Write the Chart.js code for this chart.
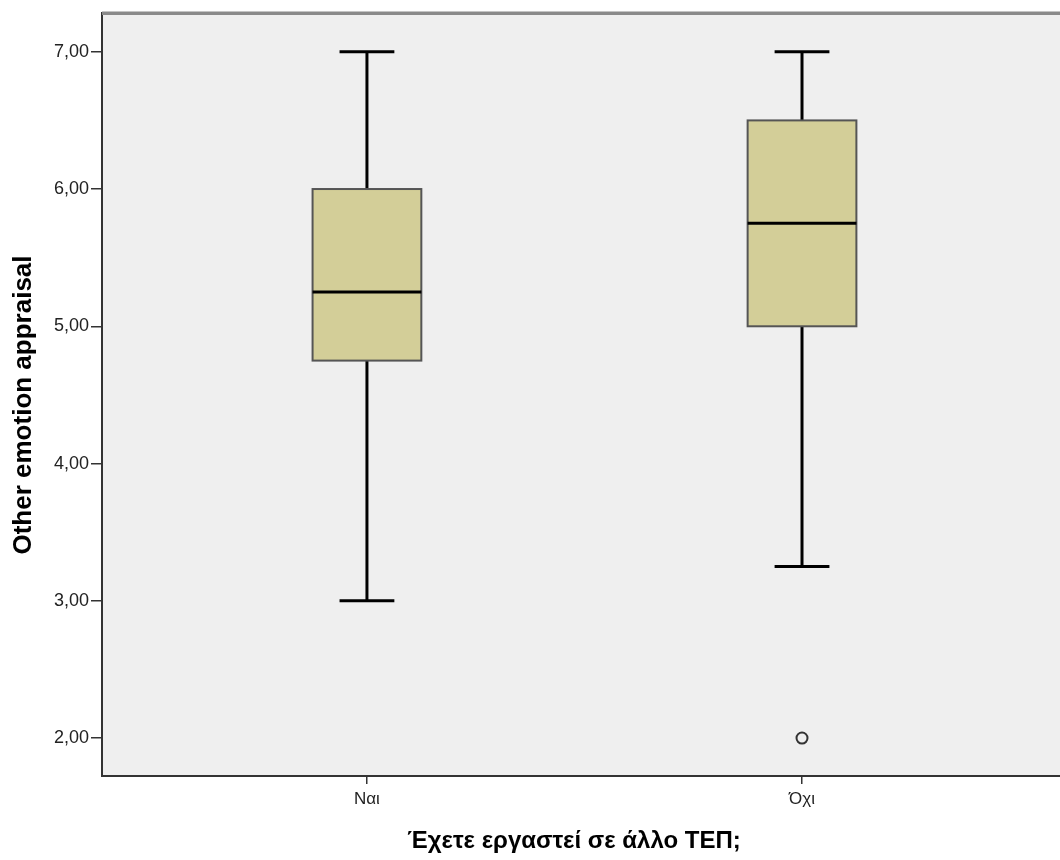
<!DOCTYPE html>
<html>
<head>
<meta charset="utf-8">
<script src="https://cdn.jsdelivr.net/npm/chart.js@4.4.1/dist/chart.umd.min.js"></script>
<style>
html,body{margin:0;padding:0;background:#fff;overflow:hidden;}
#wrap{width:1060px;height:860px;position:relative;}
</style>
</head>
<body>
<div id="wrap"><canvas id="c" width="1060" height="860"></canvas></div>
<script>
const categories = ['Ναι', 'Όχι'];
const whiskerLow = [3.00, 3.25];
const q1 = [4.75, 5.00];
const median = [5.25, 5.75];
const q3 = [6.00, 6.50];
const whiskerHigh = [7.00, 7.00];
const outliers = [{x: 2, y: 2.00}];
const yTicks = [2, 3, 4, 5, 6, 7];
const xTitle = 'Έχετε εργαστεί σε άλλο ΤΕΠ;';
const yTitle = 'Other emotion appraisal';

const FONT = '"Liberation Sans", Arial, sans-serif';

const boxPlugin = {
  id: 'boxPlugin',
  beforeDraw(chart) {
    const {ctx, chartArea: a} = chart;
    ctx.save();
    ctx.fillStyle = '#EFEFEF';
    ctx.fillRect(a.left, a.top, a.right - a.left, a.bottom - a.top);
    ctx.restore();
  },
  beforeDatasetsDraw(chart) {
    const {ctx, chartArea: a, scales: {x, y}} = chart;
    ctx.save();
    ctx.beginPath();
    ctx.rect(a.left, a.top, a.right - a.left, a.bottom - a.top);
    ctx.clip();
    categories.forEach((c, i) => {
      const cx = x.getPixelForValue(i + 1);
      const halfBox = x.getPixelForValue(i + 1 + 0.125) - cx;
      const halfCap = x.getPixelForValue(i + 1 + 0.063) - cx;
      const yLo = y.getPixelForValue(whiskerLow[i]);
      const yQ1 = y.getPixelForValue(q1[i]);
      const yMed = y.getPixelForValue(median[i]);
      const yQ3 = y.getPixelForValue(q3[i]);
      const yHi = y.getPixelForValue(whiskerHigh[i]);
      ctx.strokeStyle = '#000';
      ctx.lineWidth = 3;
      ctx.lineCap = 'butt';
      ctx.beginPath();
      ctx.moveTo(cx, yHi); ctx.lineTo(cx, yQ3);
      ctx.moveTo(cx, yQ1); ctx.lineTo(cx, yLo);
      ctx.moveTo(cx - halfCap, yHi); ctx.lineTo(cx + halfCap, yHi);
      ctx.moveTo(cx - halfCap, yLo); ctx.lineTo(cx + halfCap, yLo);
      ctx.stroke();
      ctx.fillStyle = '#D3CE98';
      ctx.fillRect(cx - halfBox, yQ3, 2 * halfBox, yQ1 - yQ3);
      ctx.strokeStyle = '#555';
      ctx.lineWidth = 2;
      ctx.strokeRect(cx - halfBox, yQ3, 2 * halfBox, yQ1 - yQ3);
      ctx.strokeStyle = '#000';
      ctx.lineWidth = 3;
      ctx.beginPath();
      ctx.moveTo(cx - halfBox, yMed); ctx.lineTo(cx + halfBox, yMed);
      ctx.stroke();
    });
    ctx.restore();
  },
  afterDraw(chart) {
    const {ctx, chartArea: a} = chart;
    ctx.save();
    ctx.strokeStyle = '#8a8a8a';
    ctx.lineWidth = 3.5;
    ctx.beginPath();
    ctx.moveTo(a.left, a.top + 0.5);
    ctx.lineTo(a.right, a.top + 0.5);
    ctx.stroke();
    // axis titles
    ctx.fillStyle = '#000';
    ctx.textAlign = 'center';
    ctx.textBaseline = 'middle';
    ctx.font = 'bold 24px ' + FONT;
    ctx.fillText(xTitle, 574, 841);
    ctx.translate(24, 405);
    ctx.rotate(-Math.PI / 2);
    ctx.font = 'bold 26px ' + FONT;
    ctx.fillText(yTitle, 0, 0);
    ctx.restore();
  }
};

new Chart(document.getElementById('c'), {
  type: 'scatter',
  data: {
    datasets: [{
      data: outliers,
      pointStyle: 'circle',
      pointRadius: 5.5,
      pointHoverRadius: 5.5,
      borderColor: '#333',
      borderWidth: 2,
      backgroundColor: 'rgba(0,0,0,0)'
    }]
  },
  options: {
    responsive: false,
    animation: false,
    devicePixelRatio: 1,
    layout: {autoPadding: false, padding: {top: 12, right: 0, left: 0, bottom: 0}},
    plugins: {legend: {display: false}, tooltip: {enabled: false}},
    scales: {
      x: {
        type: 'linear',
        min: 0.391,
        max: 2.593,
        afterBuildTicks: s => { s.ticks = categories.map((c, i) => ({value: i + 1})); },
        afterFit: s => { s.height = 84; },
        ticks: {
          callback: v => categories[v - 1],
          font: {family: FONT, size: 17},
          color: '#222',
          padding: 5,
          maxRotation: 0
        },
        grid: {drawOnChartArea: false, drawTicks: true, tickLength: 8, color: '#333', lineWidth: 1.5},
        border: {display: true, color: '#333', width: 2},
        title: {display: false}
      },
      y: {
        type: 'linear',
        min: 1.7234,
        max: 7.284,
        afterBuildTicks: s => { s.ticks = yTicks.map(v => ({value: v})); },
        afterFit: s => { s.width = 102; },
        ticks: {
          callback: v => v.toFixed(2).replace('.', ','),
          font: {family: FONT, size: 18},
          color: '#222',
          padding: 2
        },
        grid: {drawOnChartArea: false, drawTicks: true, tickLength: 11, color: '#333', lineWidth: 1.5},
        border: {display: true, color: '#333', width: 2},
        title: {display: false}
      }
    }
  },
  plugins: [boxPlugin]
});
</script>
</body>
</html>
